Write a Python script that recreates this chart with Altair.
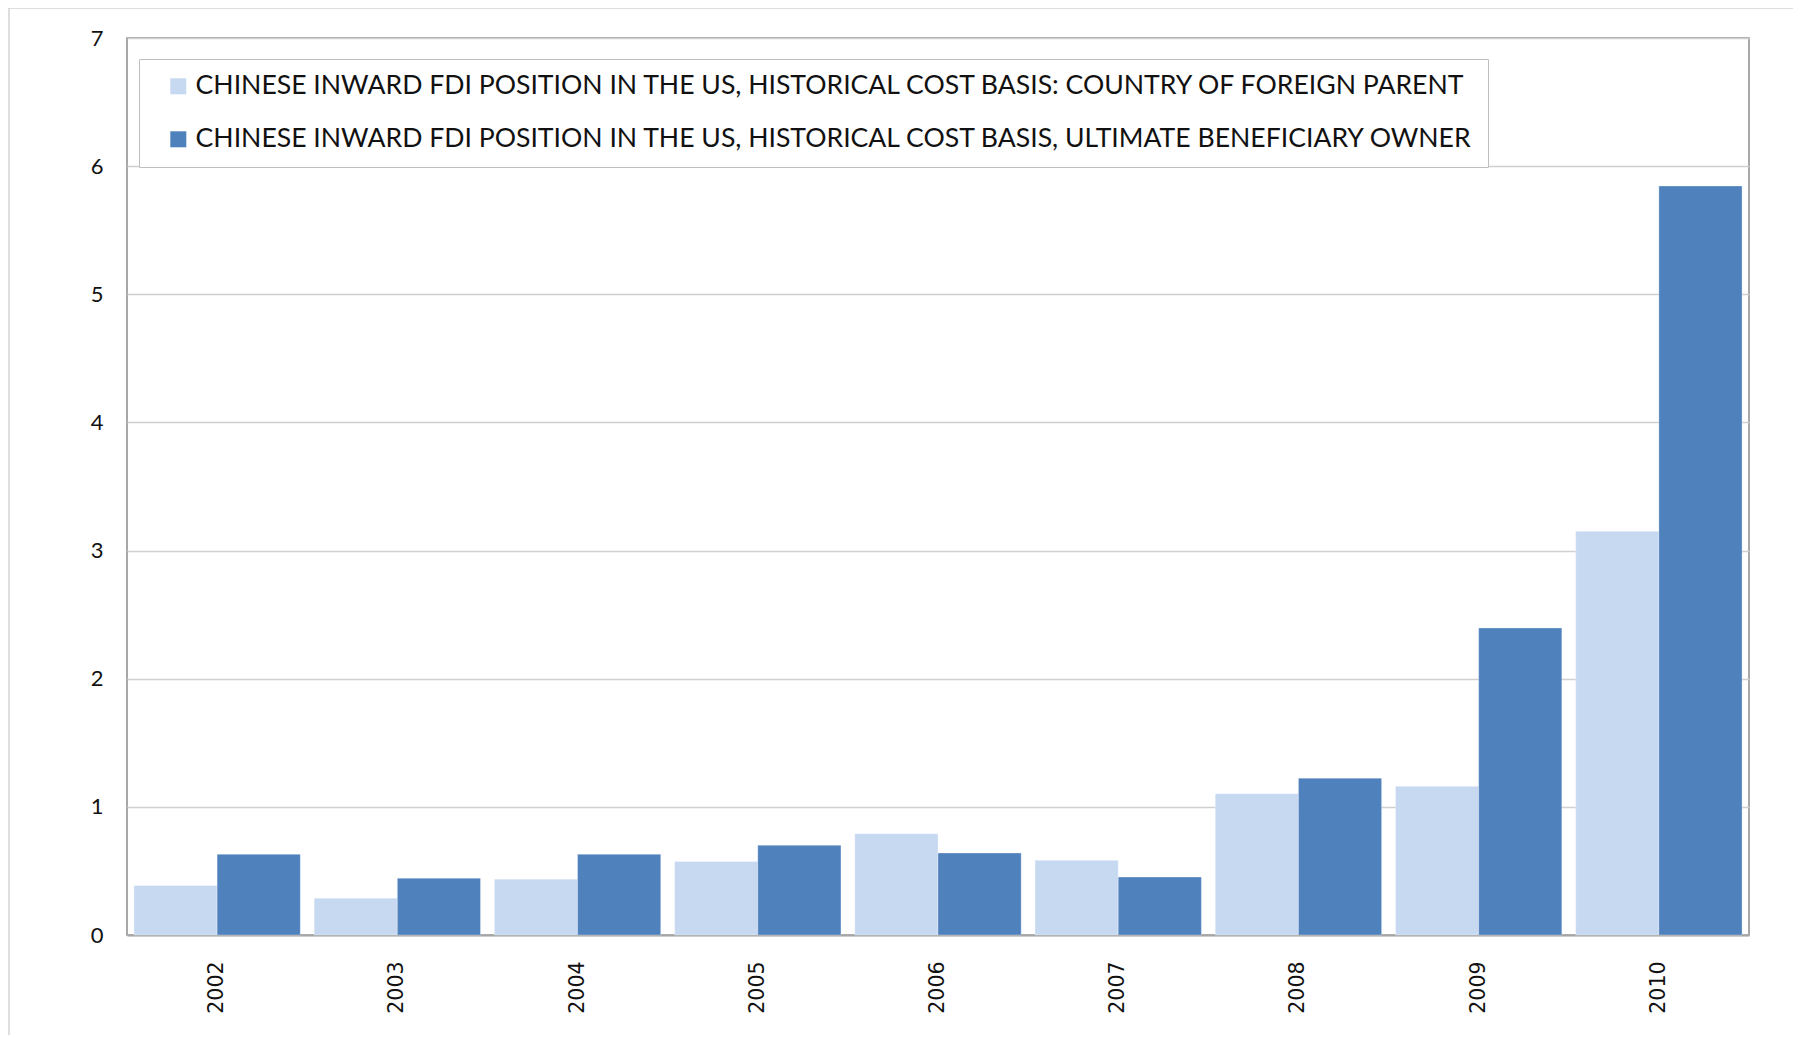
import altair as alt
import pandas as pd

years = ["2002", "2003", "2004", "2005", "2006", "2007", "2008", "2009", "2010"]
foreign_parent = [0.386, 0.287, 0.436, 0.574, 0.790, 0.583, 1.103, 1.160, 3.150]
ultimate_owner = [0.630, 0.443, 0.630, 0.700, 0.640, 0.452, 1.224, 2.396, 5.845]
series_names = [
    "CHINESE INWARD FDI POSITION IN THE US, HISTORICAL COST BASIS: COUNTRY OF FOREIGN PARENT",
    "CHINESE INWARD FDI POSITION IN THE US, HISTORICAL COST BASIS, ULTIMATE BENEFICIARY OWNER",
]
series_colors = ["#C6D9F1", "#4F81BD"]
y_ticks = [0, 1, 2, 3, 4, 5, 6, 7]

rows = []
for i, y in enumerate(years):
    rows.append({"year": y, "series": series_names[0], "value": foreign_parent[i]})
    rows.append({"year": y, "series": series_names[1], "value": ultimate_owner[i]})
df = pd.DataFrame(rows)

W, H = 1622, 897

frame = alt.Chart(alt.Data(values=[{}])).mark_rect(
    fill="transparent", stroke="#D4D4D4", strokeWidth=1.5
).encode(
    x=alt.value(-118), x2=alt.value(1667), y=alt.value(-30), y2=alt.value(1100)
)

bars = alt.Chart(df).mark_bar(stroke="white", strokeWidth=0.6, strokeOpacity=0.5).encode(
    x=alt.X("year:N", sort=years, title=None,
            scale=alt.Scale(paddingInner=0.077, paddingOuter=0.0385),
            axis=alt.Axis(labelAngle=270, labelFont="DejaVu Sans", labelFontSize=20.5,
                          labelColor="#111111", labelPadding=26, ticks=False,
                          domainColor="#A6A6A6", domainWidth=2, grid=False)),
    xOffset=alt.XOffset("series:N", sort=series_names,
                        scale=alt.Scale(paddingInner=0, paddingOuter=0)),
    y=alt.Y("value:Q", title=None,
            scale=alt.Scale(domain=[0, 7], nice=False),
            axis=alt.Axis(values=y_ticks, labelFont="Lato", labelFontSize=22,
                          labelColor="#111111", labelPadding=24, ticks=False,
                          domain=False, grid=True, gridColor="#D0D0D0",
                          gridWidth=1.5)),
    color=alt.Color("series:N", sort=series_names, title=None,
                    scale=alt.Scale(domain=series_names, range=series_colors),
                    legend=alt.Legend(orient="none", legendX=12, legendY=21,
                                      fillColor="white", strokeColor="#BFBFBF",
                                      padding=14, symbolType="square",
                                      symbolSize=256, symbolStrokeWidth=0,
                                      symbolOffset=12, labelOffset=4,
                                      labelFont="Lato", labelFontSize=26.6,
                                      labelColor="#111111", labelLimit=3000,
                                      rowPadding=26)),
)

chart = alt.layer(frame, bars).properties(
    width=W, height=H,
    autosize=alt.AutoSizeParams(type="none"),
    padding={"left": 119, "top": 30, "right": 44, "bottom": 100},
    background="white",
).configure_view(stroke="#8C8C8C", strokeWidth=1.5)

chart.save("out.html", embed_options={"renderer": "svg", "actions": False})
